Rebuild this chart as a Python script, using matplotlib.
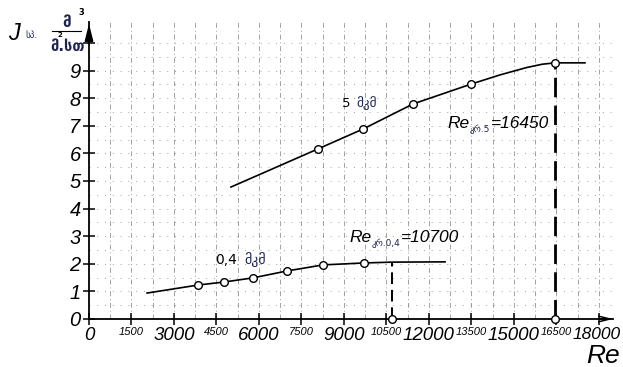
import matplotlib
matplotlib.use("Agg")
import matplotlib.pyplot as plt
import matplotlib.transforms as mtransforms
from matplotlib.ticker import FixedLocator

# ---- data ----------------------------------------------------------
# 0.4 µm membrane: specific flux vs Reynolds number
re_04_curve = [2050, 3850, 4770, 5790, 6990, 8260, 9710, 10700, 12570]
j_04_curve = [0.94, 1.23, 1.34, 1.49, 1.74, 1.96, 2.03, 2.06, 2.07]
re_04_pts = [3850, 4770, 5790, 6990, 8260, 9710]
j_04_pts = [1.23, 1.34, 1.49, 1.74, 1.96, 2.03]

# 5 µm membrane
re_5_curve = [5010, 8080, 9670, 11440, 13490, 14500, 15450, 16000, 16450, 17510]
j_5_curve = [4.78, 6.16, 6.88, 7.79, 8.51, 8.84, 9.11, 9.23, 9.28, 9.28]
re_5_pts = [8080, 9670, 11440, 13490, 16450]
j_5_pts = [6.16, 6.88, 7.79, 8.51, 9.28]

# critical Reynolds numbers
re_cr_04 = 10700
re_cr_5 = 16450
j_cr_04 = 2.06
j_cr_5 = 9.28

x_major = [0, 3000, 6000, 9000, 12000, 15000, 18000]
x_minor = [1500, 4500, 7500, 10500, 13500, 16500]
y_ticks = list(range(0, 11))
y_labels = [str(v) for v in range(0, 10)] + [""]

# ---- style ---------------------------------------------------------
LAT = ["Liberation Sans", "DejaVu Sans"]
GEO = ["DejaVu Sans"]
NAVY = "#1d2452"

W, H = 623, 367
fig = plt.figure(figsize=(W / 100, H / 100), dpi=100)
ax = fig.add_axes([89 / W, (H - 319) / H, (613 - 89) / W, (319 - 22) / H])
ax.set_xlim(0, 18500)
ax.set_ylim(0, 10.76)

for s in ("top", "right"):
    ax.spines[s].set_visible(False)
for s in ("left", "bottom"):
    ax.spines[s].set_linewidth(1.3)

# dash-dot background ruling
for xv in range(750, 18500, 750):
    ax.axvline(xv, color="#7a7a7a", lw=0.7, ls=(0, (5, 3, 1, 3)), alpha=0.7, zorder=0)
for yv in [0.5 * k for k in range(1, 21)]:
    ax.axhline(yv, color="#7a7a7a", lw=0.7, ls=(0, (1, 7)), alpha=0.7, zorder=0)

# ticks
ax.xaxis.set_major_locator(FixedLocator(x_major + x_minor))
ax.set_xticklabels([str(v) for v in x_major + x_minor])
ax.yaxis.set_major_locator(FixedLocator(y_ticks))
ax.set_yticklabels(y_labels)
ax.tick_params(axis="both", direction="inout", length=8, width=1.1, pad=2)
shift_left = mtransforms.ScaledTranslation(-1.5 / 72, 0, fig.dpi_scale_trans)
for lab in ax.get_xticklabels():
    val = int(lab.get_text())
    lab.set_family(LAT)
    lab.set_style("italic")
    lab.set_fontsize(13.5 if val in x_major else 8)
    if val == x_major[-1]:
        lab.set_fontsize(12.5)
        lab.set_transform(lab.get_transform() + shift_left)
for lab in ax.get_yticklabels():
    lab.set_family(LAT)
    lab.set_style("italic")
    lab.set_fontsize(14.5)

# axis arrows
ax.annotate("", xy=(0, 10.8), xytext=(0, 10.2), xycoords="data",
            arrowprops=dict(arrowstyle="-|>,head_length=1.0,head_width=0.25",
                            color="black", lw=1.3), annotation_clip=False)
ax.annotate("", xy=(18600, 0), xytext=(17900, 0), xycoords="data",
            arrowprops=dict(arrowstyle="->,head_length=0.8,head_width=0.2",
                            color="black", lw=1.1), annotation_clip=False)

# curves
ax.plot(re_04_curve, j_04_curve, color="black", lw=1.2, zorder=3)
ax.plot(re_5_curve, j_5_curve, color="black", lw=1.2, zorder=3)
ax.plot(re_04_pts, j_04_pts, ls="none", marker="o", ms=5.5, mfc="white",
        mec="black", mew=1.0, zorder=4)
ax.plot(re_5_pts, j_5_pts, ls="none", marker="o", ms=5.5, mfc="white",
        mec="black", mew=1.0, zorder=4)

# critical Re markers
ax.plot([re_cr_04, re_cr_04], [0, j_cr_04], color="black", lw=1.4,
        ls=(0, (6, 3)), zorder=2)
ax.plot([re_cr_5, re_cr_5], [0, j_cr_5], color="black", lw=2.0,
        ls=(0, (7, 3)), zorder=2)
ax.plot([re_cr_04, re_cr_5], [0, 0], ls="none", marker="o", ms=5.5,
        mfc="white", mec="black", mew=1.0, zorder=5, clip_on=False)

# curve labels
t = ax.text(8930, 7.68, "5", fontsize=9.5, family=GEO, va="baseline")
ax.annotate("მკმ", xy=(1, 0), xycoords=t, xytext=(4, 0),
            textcoords="offset points", fontsize=9.5, family=GEO,
            color=NAVY, va="bottom")
t = ax.text(4450, 1.99, "0,4", fontsize=10, family=GEO, va="baseline")
ax.annotate("მკმ", xy=(1, 0), xycoords=t, xytext=(5, 0),
            textcoords="offset points", fontsize=10, family=GEO,
            color=NAVY, va="bottom")


def re_label(x, y, sub, value):
    r = ax.text(x, y, "Re", fontsize=12.5, family=LAT, style="italic",
                va="baseline")
    s = ax.annotate(sub, xy=(1, 0), xycoords=r, xytext=(0, -2.5),
                    textcoords="offset points", fontsize=6.5, family=GEO,
                    color=NAVY, va="bottom")
    ax.annotate("=" + value, xy=(1, 0), xycoords=s, xytext=(0.5, 2.5),
                textcoords="offset points", fontsize=12.5, family=LAT,
                style="italic", va="bottom")


re_label(12670, 6.92, "კრ.5", "16450")
re_label(9180, 2.79, "კრ.0,4", "10700")

# axis titles
fig.text(620 / W, 1 - 363 / H, "Re", fontsize=19, family=LAT,
         style="italic", va="baseline", ha="right")
fig.text(8 / W, 1 - 40 / H, "J", fontsize=17, family=LAT,
         style="italic", va="baseline")
fig.text(25 / W, 1 - 38 / H, "სპ.", fontsize=6.5, family=GEO,
         color=NAVY, va="baseline")
fig.text(67 / W, 1 - 27 / H, "მ", fontsize=11, family=GEO, weight="bold",
         color=NAVY, va="baseline", ha="center")
fig.text(78 / W, 1 - 15 / H, "3", fontsize=6, family=GEO, weight="bold",
         va="baseline")
fig.add_artist(plt.Line2D([52 / W, 81 / W], [1 - 31 / H, 1 - 31 / H],
                          color="black", lw=0.8))
fig.text(57 / W, 1 - 37 / H, "2", fontsize=5, family=GEO, weight="bold",
         va="baseline")
fig.text(68 / W, 1 - 51 / H, "მ.სთ", fontsize=10.5, family=GEO,
         weight="bold", color=NAVY, va="baseline", ha="center")

fig.savefig("out.png", dpi=100)
